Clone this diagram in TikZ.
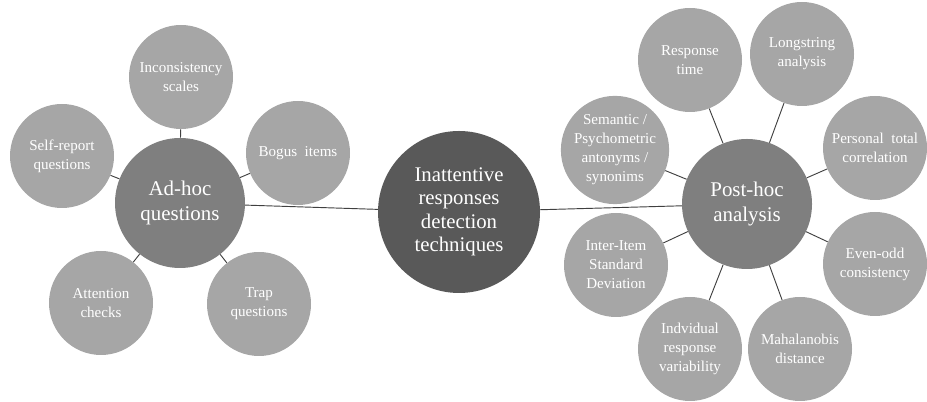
\documentclass[tikz,border=0pt]{standalone}
\usepackage{fontspec}
\setmainfont{Liberation Serif}
\usepackage{xcolor}
\usepackage{tikz}
\definecolor{leafgray}{HTML}{A6A6A6}
\definecolor{groupgray}{HTML}{7F7F7F}
\definecolor{coregray}{HTML}{595959}
\tikzset{
	leafblock/.style = {
		circle,
		align = center,
		inner sep = 0pt,
		minimum size = 78pt,
		fill = leafgray,
		text = white,
		font = \fontsize{11.3}{14.3}\selectfont,
	},
	groupblock/.style = {
		leafblock,
		minimum size = 97.5pt,
		fill = groupgray,
		font = \fontsize{15.7}{18.8}\selectfont,
	},
	coreblock/.style = {
		leafblock,
		minimum size = 121.5pt,
		fill = coregray,
		font = \fontsize{15.6}{17.5}\selectfont,
	},
	link/.style = {
		draw = black!75,
		line width = 0.7pt,
	}
}

\begin{document}
\begin{tikzpicture}[x = 0.75pt, y = 0.75pt]
	\useasboundingbox (0,0) rectangle (927,402);
	\node[coreblock](core) at (459,190){Inattentive\\responses\\detection\\techniques};
	\node[groupblock](adhoc) at (180,199){Ad-hoc\\questions};
	\node[groupblock](posthoc) at (747,198){Post-hoc\\analysis};
	
	\node[leafblock](incons) at (181,325){Inconsistency\\scales};
	\node[leafblock](selfrep) at (62,246){Self-report\\questions};
	\node[leafblock](bogus) at (298,249){Bogus\ \ items};
	\node[leafblock](attention) at (101,99){Attention\\checks};
	\node[leafblock](trap) at (259,98){Trap\\questions};
	
	\node[leafblock](resptime) at (690,342){Response\\time};
	\node[leafblock](longstr) at (802,348){Longstring\\analysis};
	\node[leafblock](semantic) at (615,252){Semantic /\\Psychometric\\antonyms /\\synonims};
	\node[leafblock](personal) at (875,254){Personal\ \ total\\correlation};
	\node[leafblock](interitem) at (616,137){Inter-Item\\Standard\\Deviation};
	\node[leafblock](evenodd) at (875,138){Even-odd\\consistency};
	\node[leafblock](indvar) at (690,53){Indvidual\\response\\variability};
	\node[leafblock](mahal) at (800,53){Mahalanobis\\distance};
	
	\draw[link](core)--(adhoc);
	\draw[link](core)--(posthoc);
	
	\draw[link](adhoc)--(incons);
	\draw[link](adhoc)--(selfrep);
	\draw[link](adhoc)--(bogus);
	\draw[link](adhoc)--(attention);
	\draw[link](adhoc)--(trap);
	
	\draw[link](posthoc)--(resptime);
	\draw[link](posthoc)--(longstr);
	\draw[link](posthoc)--(semantic);
	\draw[link](posthoc)--(personal);
	\draw[link](posthoc)--(interitem);
	\draw[link](posthoc)--(evenodd);
	\draw[link](posthoc)--(indvar);
	\draw[link](posthoc)--(mahal);
\end{tikzpicture}
\end{document}
